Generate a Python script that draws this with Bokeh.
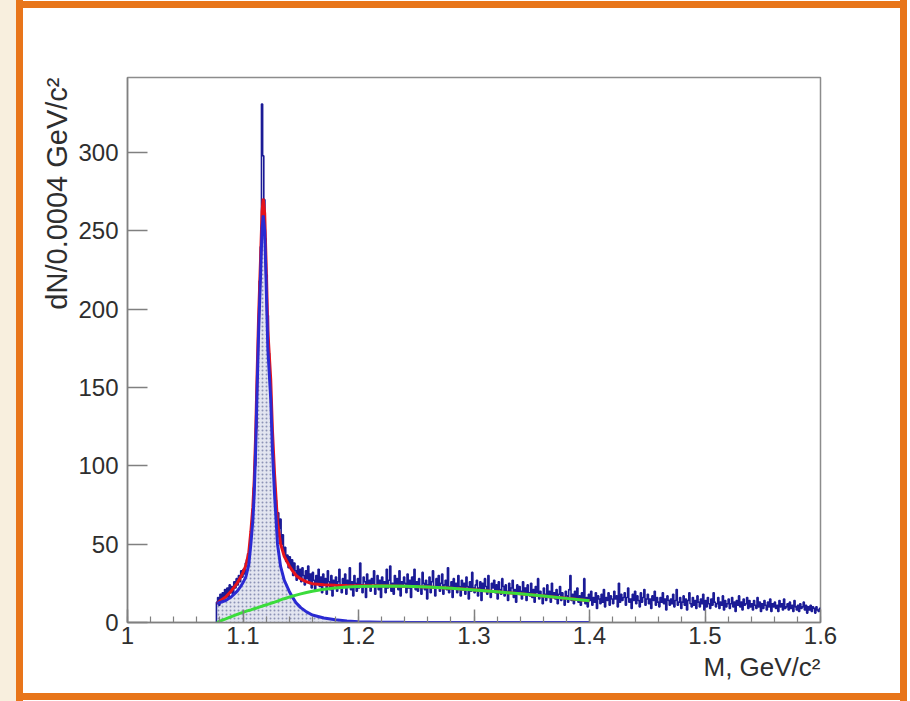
import numpy as np
from bokeh.plotting import figure
from bokeh.models import Range1d, FixedTicker, Title
from bokeh.embed import file_html
from bokeh.resources import INLINE

# ---------------- data ----------------
hist_start = 1.077      # GeV/c^2, first filled bin
hist_bin = 0.001        # drawn bin width
hist_counts = [
    13, 16, 11, 18, 14, 19, 15, 21, 17, 22, 16, 24, 19, 23, 18, 26, 22, 28, 24, 30, 26, 33, 29,
    34, 31, 38, 40, 44, 49, 54, 63, 72, 86,
    100, 124, 156, 190, 218, 240, 331, 298, 270, 245,
    222, 196, 172, 155, 140, 118, 104, 86, 78, 64,
    70, 60, 66, 50, 56, 44, 48, 39, 43, 35,
    42, 35, 40, 30, 38, 33, 27, 36, 29, 34,
    26, 35, 30, 24, 33, 28, 36, 25, 31, 22,
    32, 27, 20, 30, 25, 34, 23, 29, 19, 31,
    24, 28, 18, 33, 26, 21, 30, 17, 27, 25,
    29, 20, 26, 34, 22, 19, 28, 24, 31, 18,
    27, 23, 35, 21, 26, 17, 30, 25, 20, 28,
    22, 38, 24, 19, 29, 26, 16, 31, 23, 27,
    20, 28, 25, 33, 18, 24, 30, 21, 27, 16,
    29, 23, 26, 19, 34, 22, 27, 36, 20, 25,
    18, 30, 24, 28, 21, 33, 17, 26, 23, 29,
    25, 19, 31, 22, 27, 16, 29, 24, 34, 21,
    26, 20, 28, 23, 18, 32, 25, 21, 27, 15,
    24, 29, 19, 26, 33, 22, 17, 28, 23, 30,
    20, 25, 31, 18, 24, 27, 21, 35, 19, 23,
    26, 16, 28, 22, 25, 19, 30, 23, 17, 27,
    21, 25, 18, 29, 23, 15, 26, 20, 32, 22,
    19, 24, 27, 17, 22, 26, 14, 25, 21, 28,
    23, 18, 30, 20, 16, 25, 22, 27, 19, 24,
    15, 26, 21, 18, 28, 23, 17, 24, 20, 14,
    25, 19, 22, 27, 16, 21, 13, 24, 18, 23,
    20, 15, 26, 18, 22, 14, 24, 19, 17, 25,
    16, 21, 13, 23, 19, 28, 15, 20, 17, 12,
    22, 18, 14, 24, 16, 20, 13, 25, 17, 19,
    15, 21, 12, 18, 23, 14, 19, 16, 11, 20,
    17, 13, 21, 30, 14, 18, 12, 20, 15, 22,
    13, 17, 11, 19, 15, 28, 12, 16, 10, 18,
    14, 20, 11, 16, 13, 19, 9, 17, 15, 12,
    18, 13, 21, 10, 16, 14, 19, 11, 17, 15,
    12, 20, 15, 17, 10, 25, 13, 18, 14, 16,
    19, 11, 16, 22, 13, 15, 9, 18, 14, 20,
    12, 17, 14, 10, 19, 13, 16, 21, 11, 15,
    18, 12, 15, 9, 17, 14, 20, 11, 16, 13,
    10, 16, 13, 19, 12, 15, 8, 17, 14, 11,
    15, 12, 18, 10, 14, 21, 11, 13, 16, 9,
    13, 17, 11, 15, 8, 14, 19, 12, 10, 16,
    11, 14, 9, 17, 13, 10, 15, 12, 18, 8,
    14, 10, 16, 12, 9, 15, 11, 19, 13, 10,
    12, 16, 9, 13, 11, 17, 8, 14, 10, 12,
    15, 9, 12, 16, 10, 13, 7, 14, 11, 17,
    10, 13, 8, 15, 11, 12, 16, 9, 14, 10,
    12, 8, 14, 11, 9, 16, 10, 13, 7, 12,
    9, 14, 11, 8, 13, 10, 15, 7, 12, 10,
    13, 9, 11, 7, 14, 10, 12, 8, 15, 9,
    10, 12, 8, 13, 9, 11, 7, 14, 10, 8,
    11, 7, 12, 9, 10, 13, 8, 11, 6, 10,
    8, 11, 7, 10, 9, 6, 10, 8, 7, 9,
]

# fit curves (sampled), M in GeV/c^2
fit_m = [1.0776, 1.08, 1.085, 1.09, 1.095, 1.098, 1.1, 1.1024, 1.105, 1.1068,
         1.1085, 1.1097, 1.111, 1.112, 1.1135, 1.1152, 1.1165, 1.1175, 1.1188, 1.12,
         1.1215, 1.124, 1.1255, 1.1273, 1.1299, 1.1325, 1.1357, 1.14, 1.1426, 1.146,
         1.15, 1.155, 1.16, 1.17, 1.18, 1.19, 1.2, 1.22, 1.24, 1.26,
         1.28, 1.3, 1.32, 1.34, 1.36, 1.38, 1.4]
signal_fit = [12, 12.8, 14, 16.5, 20, 23, 25.5, 29, 37, 50,
              65, 82, 112, 143, 185, 222, 252, 260, 250, 218,
              175, 143, 110, 82, 50, 36, 27, 20, 16.5, 12.5,
              9.5, 6.8, 4.8, 2.9, 1.7, 0.9, 0.5, 0.2, 0.1, 0.07,
              0.05, 0.04, 0.03, 0.02, 0.01, 0.01, 0]
background_fit = [0, 0.9, 2.3, 3.8, 5.2, 6.0, 6.5, 7.1, 7.7, 8.1,
                  8.5, 8.8, 9.1, 9.3, 9.7, 10.1, 10.4, 10.7, 11.0, 11.3,
                  11.6, 12.2, 12.6, 13.0, 13.7, 14.4, 15.2, 16.2, 16.8, 17.5,
                  18.3, 19.2, 20.0, 21.2, 22.1, 22.7, 23.0, 23.3, 23.1, 22.6,
                  21.8, 20.8, 19.6, 18.3, 16.9, 15.4, 13.9]
total_fit = [12, 13.7, 16.3, 20.3, 25.2, 29, 32, 36.1, 44.7, 58.1,
             73.5, 90.8, 121.1, 152.3, 194.7, 232.1, 262.4, 270.7, 261, 229.3,
             186.6, 155.2, 122.6, 95, 63.7, 50.4, 42.2, 36.2, 33.3, 30,
             27.8, 26, 24.8, 24.1, 23.8, 23.6, 23.5, 23.5, 23.2, 22.7,
             21.85, 20.84, 19.63, 18.32, 16.91, 15.41, 13.9]

x_major_ticks = [1.0, 1.1, 1.2, 1.3, 1.4, 1.5, 1.6]
x_tick_labels = {1.0: "1"}
y_major_ticks = [0, 50, 100, 150, 200, 250, 300]
x_title = "M, GeV/c²"
y_title = "dN/0.0004 GeV/c²"

# ---------------- figure ----------------
FONT = "Liberation Sans"
TXT = "#2e2e2e"
AXC = "#808080"
ORANGE = "#e8751a"
CREAM = "#f8efde"

p = figure(width=910, height=701, x_range=Range1d(1.0, 1.6), y_range=Range1d(0, 348),
           output_backend="svg", toolbar_location=None,
           min_border_left=127, min_border_right=90, min_border_top=77, min_border_bottom=79)
p.background_fill_color = "white"
p.border_fill_alpha = 0
p.outline_line_color = "#8c8c8c"
p.outline_line_width = 1.5
p.xgrid.visible = False
p.ygrid.visible = False

# page decoration behind the transparent canvas border: cream strip + orange frame
g = f"linear-gradient({ORANGE},{ORANGE})"
p.styles = {
    "background-color": "white",
    "background-image": f"{g}, {g}, {g}, {g}, linear-gradient({CREAM},{CREAM})",
    "background-size": "7px 701px, 7px 701px, 891px 7px, 891px 7px, 16px 701px",
    "background-position": "16px 0px, 900px 0px, 16px 1px, 16px 693px, 0px 0px",
    "background-repeat": "no-repeat",
}

# histogram as step outline
edges = hist_start + hist_bin * np.arange(len(hist_counts) + 1)
step_x = np.concatenate([[edges[0]], edges])
step_y = [0] + list(hist_counts) + [hist_counts[-1]]

p.varea(x=fit_m, y1=0, y2=signal_fit, fill_color="#e3e5f0", fill_alpha=1,
        hatch_pattern=".", hatch_color="#8c92b6", hatch_scale=4, hatch_weight=1.2)
p.step(step_x, step_y, mode="after", line_color="#1b1b96", line_width=1.6)
p.line(fit_m, total_fit, line_color="#e5131b", line_width=3)
p.line(fit_m, signal_fit, line_color="#2a2ad2", line_width=3)
p.line(fit_m, background_fit, line_color="#3bdc3b", line_width=3)

# axes
minor = [round(1.0 + 0.02 * i, 2) for i in range(31)]
p.xaxis.ticker = FixedTicker(ticks=x_major_ticks, minor_ticks=minor)
p.yaxis.ticker = FixedTicker(ticks=y_major_ticks, minor_ticks=[])
p.xaxis.major_label_overrides = x_tick_labels
for ax in (p.xaxis[0], p.yaxis[0]):
    ax.axis_line_color = AXC
    ax.axis_line_width = 1.5
    ax.major_tick_line_color = AXC
    ax.major_tick_line_width = 1.5
    ax.minor_tick_line_color = AXC
    ax.minor_tick_line_width = 1.2
    ax.major_tick_out = 0
    ax.minor_tick_out = 0
    ax.major_label_text_font = FONT
    ax.major_label_text_font_size = "24px"
    ax.major_label_text_color = TXT
p.xaxis.major_tick_in = 13
p.xaxis.minor_tick_in = 6
p.yaxis.major_tick_in = 20
p.yaxis.minor_tick_in = 0
p.xaxis.major_label_standoff = 4
p.yaxis.major_label_standoff = 9

# axis titles, ROOT style: placed at the far end of each axis
p.add_layout(Title(text=x_title, align="right", text_font=FONT, text_font_size="26px",
                   text_font_style="normal", text_color=TXT, standoff=6), "below")
p.add_layout(Title(text=y_title, align="right", text_font=FONT, text_font_size="29px",
                   text_font_style="normal", text_color=TXT, standoff=6), "left")

open("out.html", "w").write(file_html(p, INLINE))
